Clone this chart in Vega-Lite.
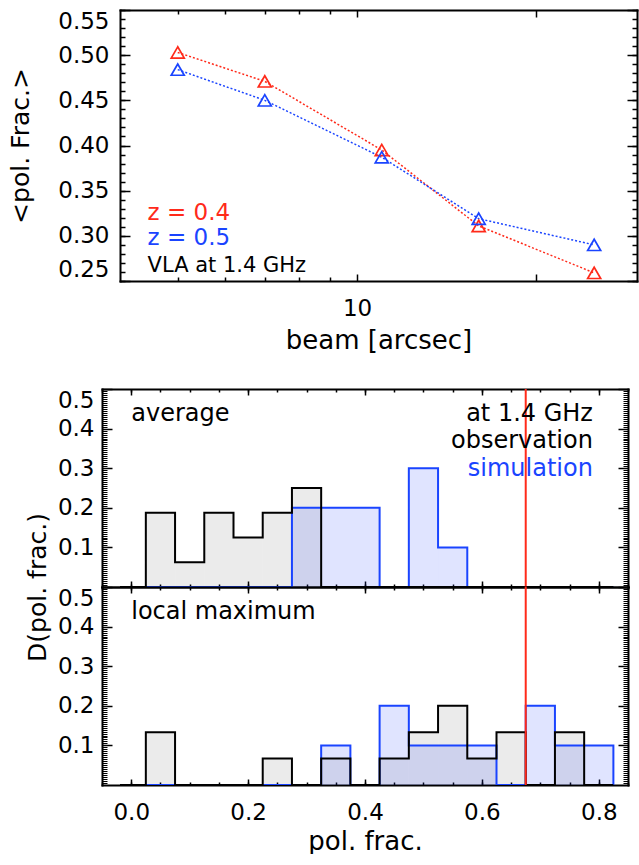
{
  "$schema": "https://vega.github.io/schema/vega-lite/v6.json",
  "padding": {"left": 8, "top": 9, "right": 0, "bottom": 0},
  "datasets": {
    "beam_points": [
      {"z": "0.4", "beam": 5, "frac": 0.503},
      {"z": "0.4", "beam": 7, "frac": 0.471},
      {"z": "0.4", "beam": 11, "frac": 0.395},
      {"z": "0.4", "beam": 16, "frac": 0.311},
      {"z": "0.4", "beam": 25, "frac": 0.259},
      {"z": "0.5", "beam": 5, "frac": 0.484},
      {"z": "0.5", "beam": 7, "frac": 0.450},
      {"z": "0.5", "beam": 11, "frac": 0.387},
      {"z": "0.5", "beam": 16, "frac": 0.319},
      {"z": "0.5", "beam": 25, "frac": 0.290}
    ],
    "hist": [
      {"panel": "average", "series": "observation", "lo": -0.025, "hi": 0.025, "frac": 0},
      {"panel": "average", "series": "observation", "lo": 0.025, "hi": 0.075, "frac": 0.1875},
      {"panel": "average", "series": "observation", "lo": 0.075, "hi": 0.125, "frac": 0.0625},
      {"panel": "average", "series": "observation", "lo": 0.125, "hi": 0.175, "frac": 0.1875},
      {"panel": "average", "series": "observation", "lo": 0.175, "hi": 0.225, "frac": 0.125},
      {"panel": "average", "series": "observation", "lo": 0.225, "hi": 0.275, "frac": 0.1875},
      {"panel": "average", "series": "observation", "lo": 0.275, "hi": 0.325, "frac": 0.25},
      {"panel": "average", "series": "observation", "lo": 0.325, "hi": 0.375, "frac": 0},
      {"panel": "average", "series": "observation", "lo": 0.375, "hi": 0.425, "frac": 0},
      {"panel": "average", "series": "observation", "lo": 0.425, "hi": 0.475, "frac": 0},
      {"panel": "average", "series": "observation", "lo": 0.475, "hi": 0.525, "frac": 0},
      {"panel": "average", "series": "observation", "lo": 0.525, "hi": 0.575, "frac": 0},
      {"panel": "average", "series": "observation", "lo": 0.575, "hi": 0.625, "frac": 0},
      {"panel": "average", "series": "observation", "lo": 0.625, "hi": 0.675, "frac": 0},
      {"panel": "average", "series": "observation", "lo": 0.675, "hi": 0.725, "frac": 0},
      {"panel": "average", "series": "observation", "lo": 0.725, "hi": 0.775, "frac": 0},
      {"panel": "average", "series": "observation", "lo": 0.775, "hi": 0.825, "frac": 0},
      {"panel": "average", "series": "observation", "lo": 0.825, "hi": 0.875, "frac": 0},
      {"panel": "average", "series": "simulation", "lo": -0.025, "hi": 0.025, "frac": 0},
      {"panel": "average", "series": "simulation", "lo": 0.025, "hi": 0.075, "frac": 0},
      {"panel": "average", "series": "simulation", "lo": 0.075, "hi": 0.125, "frac": 0},
      {"panel": "average", "series": "simulation", "lo": 0.125, "hi": 0.175, "frac": 0},
      {"panel": "average", "series": "simulation", "lo": 0.175, "hi": 0.225, "frac": 0},
      {"panel": "average", "series": "simulation", "lo": 0.225, "hi": 0.275, "frac": 0},
      {"panel": "average", "series": "simulation", "lo": 0.275, "hi": 0.325, "frac": 0.2},
      {"panel": "average", "series": "simulation", "lo": 0.325, "hi": 0.375, "frac": 0.2},
      {"panel": "average", "series": "simulation", "lo": 0.375, "hi": 0.425, "frac": 0.2},
      {"panel": "average", "series": "simulation", "lo": 0.425, "hi": 0.475, "frac": 0},
      {"panel": "average", "series": "simulation", "lo": 0.475, "hi": 0.525, "frac": 0.3},
      {"panel": "average", "series": "simulation", "lo": 0.525, "hi": 0.575, "frac": 0.1},
      {"panel": "average", "series": "simulation", "lo": 0.575, "hi": 0.625, "frac": 0},
      {"panel": "average", "series": "simulation", "lo": 0.625, "hi": 0.675, "frac": 0},
      {"panel": "average", "series": "simulation", "lo": 0.675, "hi": 0.725, "frac": 0},
      {"panel": "average", "series": "simulation", "lo": 0.725, "hi": 0.775, "frac": 0},
      {"panel": "average", "series": "simulation", "lo": 0.775, "hi": 0.825, "frac": 0},
      {"panel": "average", "series": "simulation", "lo": 0.825, "hi": 0.875, "frac": 0},
      {"panel": "local maximum", "series": "observation", "lo": -0.025, "hi": 0.025, "frac": 0},
      {"panel": "local maximum", "series": "observation", "lo": 0.025, "hi": 0.075, "frac": 0.1333},
      {"panel": "local maximum", "series": "observation", "lo": 0.075, "hi": 0.125, "frac": 0},
      {"panel": "local maximum", "series": "observation", "lo": 0.125, "hi": 0.175, "frac": 0},
      {"panel": "local maximum", "series": "observation", "lo": 0.175, "hi": 0.225, "frac": 0},
      {"panel": "local maximum", "series": "observation", "lo": 0.225, "hi": 0.275, "frac": 0.0667},
      {"panel": "local maximum", "series": "observation", "lo": 0.275, "hi": 0.325, "frac": 0},
      {"panel": "local maximum", "series": "observation", "lo": 0.325, "hi": 0.375, "frac": 0.0667},
      {"panel": "local maximum", "series": "observation", "lo": 0.375, "hi": 0.425, "frac": 0},
      {"panel": "local maximum", "series": "observation", "lo": 0.425, "hi": 0.475, "frac": 0.0667},
      {"panel": "local maximum", "series": "observation", "lo": 0.475, "hi": 0.525, "frac": 0.1333},
      {"panel": "local maximum", "series": "observation", "lo": 0.525, "hi": 0.575, "frac": 0.2},
      {"panel": "local maximum", "series": "observation", "lo": 0.575, "hi": 0.625, "frac": 0.0667},
      {"panel": "local maximum", "series": "observation", "lo": 0.625, "hi": 0.675, "frac": 0.1333},
      {"panel": "local maximum", "series": "observation", "lo": 0.675, "hi": 0.725, "frac": 0},
      {"panel": "local maximum", "series": "observation", "lo": 0.725, "hi": 0.775, "frac": 0.1333},
      {"panel": "local maximum", "series": "observation", "lo": 0.775, "hi": 0.825, "frac": 0},
      {"panel": "local maximum", "series": "observation", "lo": 0.825, "hi": 0.875, "frac": 0},
      {"panel": "local maximum", "series": "simulation", "lo": -0.025, "hi": 0.025, "frac": 0},
      {"panel": "local maximum", "series": "simulation", "lo": 0.025, "hi": 0.075, "frac": 0},
      {"panel": "local maximum", "series": "simulation", "lo": 0.075, "hi": 0.125, "frac": 0},
      {"panel": "local maximum", "series": "simulation", "lo": 0.125, "hi": 0.175, "frac": 0},
      {"panel": "local maximum", "series": "simulation", "lo": 0.175, "hi": 0.225, "frac": 0},
      {"panel": "local maximum", "series": "simulation", "lo": 0.225, "hi": 0.275, "frac": 0},
      {"panel": "local maximum", "series": "simulation", "lo": 0.275, "hi": 0.325, "frac": 0},
      {"panel": "local maximum", "series": "simulation", "lo": 0.325, "hi": 0.375, "frac": 0.1},
      {"panel": "local maximum", "series": "simulation", "lo": 0.375, "hi": 0.425, "frac": 0},
      {"panel": "local maximum", "series": "simulation", "lo": 0.425, "hi": 0.475, "frac": 0.2},
      {"panel": "local maximum", "series": "simulation", "lo": 0.475, "hi": 0.525, "frac": 0.1},
      {"panel": "local maximum", "series": "simulation", "lo": 0.525, "hi": 0.575, "frac": 0.1},
      {"panel": "local maximum", "series": "simulation", "lo": 0.575, "hi": 0.625, "frac": 0.1},
      {"panel": "local maximum", "series": "simulation", "lo": 0.625, "hi": 0.675, "frac": 0},
      {"panel": "local maximum", "series": "simulation", "lo": 0.675, "hi": 0.725, "frac": 0.2},
      {"panel": "local maximum", "series": "simulation", "lo": 0.725, "hi": 0.775, "frac": 0.1},
      {"panel": "local maximum", "series": "simulation", "lo": 0.775, "hi": 0.825, "frac": 0.1},
      {"panel": "local maximum", "series": "simulation", "lo": 0.825, "hi": 0.875, "frac": 0}
    ],
    "notes": [
      {"panel": "beam", "kind": "z", "label": "z = 0.4", "z": "0.4", "x": 4.45, "y": 0.325},
      {"panel": "beam", "kind": "z", "label": "z = 0.5", "z": "0.5", "x": 4.45, "y": 0.2975},
      {"panel": "beam", "kind": "note", "label": "VLA at 1.4 GHz", "x": 4.45, "y": 0.2665},
      {"panel": "average", "kind": "title", "label": "average", "x": 0.0, "y": 0.437},
      {"panel": "average", "kind": "legend", "label": "at 1.4 GHz", "series": "note", "x": 0.79, "y": 0.437},
      {"panel": "average", "kind": "legend", "label": "observation", "series": "observation", "x": 0.79, "y": 0.369},
      {"panel": "average", "kind": "legend", "label": "simulation", "series": "simulation", "x": 0.79, "y": 0.298},
      {"panel": "local maximum", "kind": "title", "label": "local maximum", "x": 0.0, "y": 0.437}
    ]
  },
  "columns": 1,
  "spacing": 35,
  "align": "none",
  "resolve": {"scale": {"x": "independent", "y": "independent", "color": "independent", "fill": "independent"}},
  "concat": [
    {
      "width": 517,
      "height": 271,
      "data": {"name": "beam_points"},
      "layer": [
        {
          "mark": {"type": "line", "strokeDash": [2, 2], "strokeWidth": 1.5},
          "encoding": {
            "x": {"field": "beam", "type": "quantitative", "scale": {"type": "log", "domain": [4, 29.5], "nice": false},
              "axis": {"orient": "bottom", "values": [10, 20], "labelExpr": "datum.value == 10 ? '10' : ''", "tickSize": -7, "tickWidth": 1.5, "labelPadding": 23, "domain": true, "domainWidth": 2, "domainCap": "square", "title": "beam [arcsec]", "titleFontSize": 26, "titlePadding": 7}},
            "y": {"field": "frac", "type": "quantitative", "scale": {"domain": [0.25, 0.55], "nice": false, "zero": false},
              "axis": {"orient": "left", "values": [0.25, 0.3, 0.35, 0.4, 0.45, 0.5, 0.55], "format": ".2f", "tickSize": -10, "tickWidth": 1.5, "labelPadding": 21, "labelFlush": true, "domain": true, "domainWidth": 2, "domainCap": "square", "title": "<pol. Frac.>", "titlePadding": 24}},
            "color": {"field": "z", "type": "nominal", "scale": {"domain": ["0.4", "0.5"], "range": ["#ff2a1a", "#1a44ff"]}, "legend": null}
          }
        },
        {
          "mark": {"type": "point", "shape": "triangle-up", "filled": false, "size": 170, "strokeWidth": 1.7, "opacity": 1},
          "encoding": {
            "x": {"field": "beam", "type": "quantitative", "scale": {"type": "log", "domain": [4, 29.5], "nice": false},
              "axis": {"orient": "bottom", "values": [5, 6, 7, 8, 9], "labels": false, "tickSize": -4, "tickWidth": 1.5, "domain": false, "title": null}},
            "y": {"field": "frac", "type": "quantitative", "scale": {"domain": [0.25, 0.55], "nice": false, "zero": false},
              "axis": {"orient": "left", "tickCount": 30, "labels": false, "tickSize": -5, "tickWidth": 1.5, "domain": false, "title": null}},
            "color": {"field": "z", "type": "nominal", "scale": {"domain": ["0.4", "0.5"], "range": ["#ff2a1a", "#1a44ff"]}, "legend": null}
          }
        },
        {
          "data": {"name": "notes"},
          "transform": [{"filter": "datum.kind == 'z'"}],
          "mark": {"type": "text", "align": "left", "baseline": "middle", "fontSize": 23, "font": "DejaVu Sans"},
          "encoding": {
            "x": {"field": "x", "type": "quantitative", "scale": {"type": "log", "domain": [4, 29.5], "nice": false},
              "axis": {"orient": "top", "values": [10, 20], "labels": false, "tickSize": -7, "tickWidth": 1.5, "domain": true, "domainWidth": 2, "domainCap": "square", "title": null}},
            "y": {"field": "y", "type": "quantitative", "scale": {"domain": [0.25, 0.55], "nice": false, "zero": false},
              "axis": {"orient": "right", "values": [0.25, 0.3, 0.35, 0.4, 0.45, 0.5, 0.55], "labels": false, "tickSize": -10, "tickWidth": 1.5, "domain": true, "domainWidth": 2, "domainCap": "square", "title": null}},
            "text": {"field": "label"},
            "color": {"field": "z", "type": "nominal", "scale": {"domain": ["0.4", "0.5"], "range": ["#ff2a1a", "#1a44ff"]}, "legend": null}
          }
        },
        {
          "data": {"name": "notes"},
          "transform": [{"filter": "datum.kind == 'note'"}],
          "mark": {"type": "text", "align": "left", "baseline": "middle", "fontSize": 21, "font": "DejaVu Sans", "color": "black"},
          "encoding": {
            "x": {"field": "x", "type": "quantitative", "scale": {"type": "log", "domain": [4, 29.5], "nice": false},
              "axis": {"orient": "top", "values": [5, 6, 7, 8, 9], "labels": false, "tickSize": -4, "tickWidth": 1.5, "domain": false, "title": null}},
            "y": {"field": "y", "type": "quantitative", "scale": {"domain": [0.25, 0.55], "nice": false, "zero": false},
              "axis": {"orient": "right", "tickCount": 30, "labels": false, "tickSize": -5, "tickWidth": 1.5, "domain": false, "title": null}},
            "text": {"field": "label"}
          }
        }
      ],
      "resolve": {"axis": {"x": "independent", "y": "independent"}}
    },
    {
      "spacing": 0,
      "bounds": "flush",
      "resolve": {"scale": {"x": "independent", "y": "independent", "color": "independent", "fill": "independent"}},
      "vconcat": [
        {
          "width": 508,
          "height": 198,
          "layer": [
            {
              "data": {"name": "hist"},
              "transform": [{"filter": "datum.panel == 'average'"}],
              "mark": {"type": "rect", "strokeWidth": 0},
              "encoding": {
                "x": {"field": "lo", "type": "quantitative", "scale": {"domain": [-0.05, 0.85], "range": [-18, 508], "nice": false, "zero": false},
                  "axis": {"orient": "bottom", "values": [0, 0.2, 0.4, 0.6, 0.8], "labels": false, "tickSize": -6, "tickWidth": 1.5, "domain": true, "domainWidth": 2, "domainCap": "square", "title": null}},
                "x2": {"field": "hi"},
                "y": {"field": "frac", "type": "quantitative", "scale": {"domain": [0, 0.5], "nice": false},
                  "axis": {"orient": "left", "offset": 18, "values": [0.1, 0.2, 0.3, 0.4, 0.5], "format": ".1f", "tickSize": -10, "tickWidth": 1.5, "labelPadding": 18, "labelFlush": true, "domain": true, "domainWidth": 2, "domainCap": "square", "title": null}},
                "y2": {"datum": 0},
                "fill": {"field": "series", "type": "nominal", "scale": {"domain": ["observation", "simulation"], "range": ["#000000", "#2040ff"]}, "legend": null},
                "fillOpacity": {"field": "series", "type": "nominal", "scale": {"domain": ["observation", "simulation"], "range": [0.08, 0.14]}, "legend": null}
              }
            },
            {
              "data": {"name": "hist"},
              "transform": [{"filter": "datum.panel == 'average' && datum.series == 'simulation'"}],
              "mark": {"type": "line", "interpolate": "step-after", "strokeWidth": 2, "color": "#1a44ff", "clip": true},
              "encoding": {
                "x": {"field": "lo", "type": "quantitative", "scale": {"domain": [-0.05, 0.85], "range": [-18, 508], "nice": false, "zero": false},
                  "axis": {"orient": "bottom", "tickCount": 18, "labels": false, "tickSize": -3, "tickWidth": 1.5, "domain": false, "title": null}},
                "y": {"field": "frac", "type": "quantitative", "scale": {"domain": [0, 0.5], "nice": false},
                  "axis": {"orient": "left", "offset": 18, "tickCount": 80, "labels": false, "tickSize": -5, "tickWidth": 1, "domain": false, "title": null}}
              }
            },
            {
              "data": {"name": "hist"},
              "transform": [{"filter": "datum.panel == 'average' && datum.series == 'observation'"}],
              "mark": {"type": "line", "interpolate": "step-after", "strokeWidth": 2, "color": "#000000", "clip": true},
              "encoding": {
                "x": {"field": "lo", "type": "quantitative", "scale": {"domain": [-0.05, 0.85], "range": [-18, 508], "nice": false, "zero": false},
                  "axis": {"orient": "top", "values": [0, 0.2, 0.4, 0.6, 0.8], "labels": false, "tickSize": -6, "tickWidth": 1.5, "domain": true, "domainWidth": 2, "domainCap": "square", "title": null}},
                "y": {"field": "frac", "type": "quantitative", "scale": {"domain": [0, 0.5], "nice": false},
                  "axis": {"orient": "right", "values": [0.1, 0.2, 0.3, 0.4, 0.5], "labels": false, "tickSize": -10, "tickWidth": 1.5, "domain": true, "domainWidth": 2, "domainCap": "square", "title": null}}
              }
            },
            {
              "data": {"values": [{}]},
              "mark": {"type": "rule", "color": "#ff2a1a", "strokeWidth": 2},
              "encoding": {
                "x": {"datum": 0.675, "type": "quantitative", "scale": {"domain": [-0.05, 0.85], "range": [-18, 508], "nice": false, "zero": false}, "axis": null}
              }
            },
            {
              "data": {"name": "notes"},
              "transform": [{"filter": "datum.panel == 'average' && datum.kind == 'title'"}],
              "mark": {"type": "text", "align": "left", "baseline": "middle", "fontSize": 24, "font": "DejaVu Sans", "color": "black"},
              "encoding": {
                "x": {"field": "x", "type": "quantitative", "scale": {"domain": [-0.05, 0.85], "range": [-18, 508], "nice": false, "zero": false},
                  "axis": {"orient": "top", "tickCount": 18, "labels": false, "tickSize": -3, "tickWidth": 1.5, "domain": false, "title": null}},
                "y": {"field": "y", "type": "quantitative", "scale": {"domain": [0, 0.5], "nice": false},
                  "axis": {"orient": "right", "tickCount": 80, "labels": false, "tickSize": -5, "tickWidth": 1, "domain": false, "title": null}},
                "text": {"field": "label"}
              }
            },
            {
              "data": {"name": "notes"},
              "transform": [{"filter": "datum.panel == 'average' && datum.kind == 'legend'"}],
              "mark": {"type": "text", "align": "right", "baseline": "middle", "fontSize": 24, "font": "DejaVu Sans"},
              "encoding": {
                "x": {"field": "x", "type": "quantitative", "scale": {"domain": [-0.05, 0.85], "range": [-18, 508], "nice": false, "zero": false}, "axis": null},
                "y": {"field": "y", "type": "quantitative", "scale": {"domain": [0, 0.5], "nice": false}, "axis": null},
                "text": {"field": "label"},
                "color": {"field": "series", "type": "nominal", "scale": {"domain": ["note", "observation", "simulation"], "range": ["#000000", "#000000", "#1a44ff"]}, "legend": null}
              }
            }
          ],
          "resolve": {"axis": {"x": "independent", "y": "independent"}}
        },
        {
          "width": 508,
          "height": 198,
          "layer": [
            {
              "data": {"name": "hist"},
              "transform": [{"filter": "datum.panel == 'local maximum'"}],
              "mark": {"type": "rect", "strokeWidth": 0},
              "encoding": {
                "x": {"field": "lo", "type": "quantitative", "scale": {"domain": [-0.05, 0.85], "range": [-18, 508], "nice": false, "zero": false},
                  "axis": {"orient": "bottom", "values": [0, 0.2, 0.4, 0.6, 0.8], "format": ".1f", "labelFlush": false, "tickSize": -6, "tickWidth": 1.5, "labelPadding": 22, "domain": true, "domainWidth": 2, "domainCap": "square", "title": "pol. frac.", "titleFontSize": 26, "titlePadding": 4}},
                "x2": {"field": "hi"},
                "y": {"field": "frac", "type": "quantitative", "scale": {"domain": [0, 0.5], "nice": false},
                  "axis": {"orient": "left", "offset": 18, "values": [0.1, 0.2, 0.3, 0.4, 0.5], "format": ".1f", "tickSize": -10, "tickWidth": 1.5, "labelPadding": 18, "labelFlush": true, "domain": true, "domainWidth": 2, "domainCap": "square", "title": "D(pol. frac.)", "titleY": 0, "titleAlign": "center", "titlePadding": 7}},
                "y2": {"datum": 0},
                "fill": {"field": "series", "type": "nominal", "scale": {"domain": ["observation", "simulation"], "range": ["#000000", "#2040ff"]}, "legend": null},
                "fillOpacity": {"field": "series", "type": "nominal", "scale": {"domain": ["observation", "simulation"], "range": [0.08, 0.14]}, "legend": null}
              }
            },
            {
              "data": {"name": "hist"},
              "transform": [{"filter": "datum.panel == 'local maximum' && datum.series == 'simulation'"}],
              "mark": {"type": "line", "interpolate": "step-after", "strokeWidth": 2, "color": "#1a44ff", "clip": true},
              "encoding": {
                "x": {"field": "lo", "type": "quantitative", "scale": {"domain": [-0.05, 0.85], "range": [-18, 508], "nice": false, "zero": false},
                  "axis": {"orient": "bottom", "tickCount": 18, "labels": false, "tickSize": -3, "tickWidth": 1.5, "domain": false, "title": null}},
                "y": {"field": "frac", "type": "quantitative", "scale": {"domain": [0, 0.5], "nice": false},
                  "axis": {"orient": "left", "offset": 18, "tickCount": 80, "labels": false, "tickSize": -5, "tickWidth": 1, "domain": false, "title": null}}
              }
            },
            {
              "data": {"name": "hist"},
              "transform": [{"filter": "datum.panel == 'local maximum' && datum.series == 'observation'"}],
              "mark": {"type": "line", "interpolate": "step-after", "strokeWidth": 2, "color": "#000000", "clip": true},
              "encoding": {
                "x": {"field": "lo", "type": "quantitative", "scale": {"domain": [-0.05, 0.85], "range": [-18, 508], "nice": false, "zero": false},
                  "axis": {"orient": "top", "values": [0, 0.2, 0.4, 0.6, 0.8], "labels": false, "tickSize": -6, "tickWidth": 1.5, "domain": true, "domainWidth": 2, "domainCap": "square", "title": null}},
                "y": {"field": "frac", "type": "quantitative", "scale": {"domain": [0, 0.5], "nice": false},
                  "axis": {"orient": "right", "values": [0.1, 0.2, 0.3, 0.4, 0.5], "labels": false, "tickSize": -10, "tickWidth": 1.5, "domain": true, "domainWidth": 2, "domainCap": "square", "title": null}}
              }
            },
            {
              "data": {"values": [{}]},
              "mark": {"type": "rule", "color": "#ff2a1a", "strokeWidth": 2},
              "encoding": {
                "x": {"datum": 0.675, "type": "quantitative", "scale": {"domain": [-0.05, 0.85], "range": [-18, 508], "nice": false, "zero": false}, "axis": null}
              }
            },
            {
              "data": {"name": "notes"},
              "transform": [{"filter": "datum.panel == 'local maximum' && datum.kind == 'title'"}],
              "mark": {"type": "text", "align": "left", "baseline": "middle", "fontSize": 24, "font": "DejaVu Sans", "color": "black"},
              "encoding": {
                "x": {"field": "x", "type": "quantitative", "scale": {"domain": [-0.05, 0.85], "range": [-18, 508], "nice": false, "zero": false},
                  "axis": {"orient": "top", "tickCount": 18, "labels": false, "tickSize": -3, "tickWidth": 1.5, "domain": false, "title": null}},
                "y": {"field": "y", "type": "quantitative", "scale": {"domain": [0, 0.5], "nice": false},
                  "axis": {"orient": "right", "tickCount": 80, "labels": false, "tickSize": -5, "tickWidth": 1, "domain": false, "title": null}},
                "text": {"field": "label"}
              }
            }
          ],
          "resolve": {"axis": {"x": "independent", "y": "independent"}}
        }
      ]
    }
  ],
  "config": {
    "view": {"stroke": null},
    "axis": {
      "labelFont": "DejaVu Sans",
      "titleFont": "DejaVu Sans",
      "labelFontSize": 23,
      "titleFontSize": 25,
      "titleFontWeight": "normal",
      "labelColor": "#000000",
      "titleColor": "#000000",
      "tickColor": "#000000",
      "domainColor": "#000000",
      "grid": false,
      "labelOverlap": false,
      "zindex": 1
    }
  }
}
